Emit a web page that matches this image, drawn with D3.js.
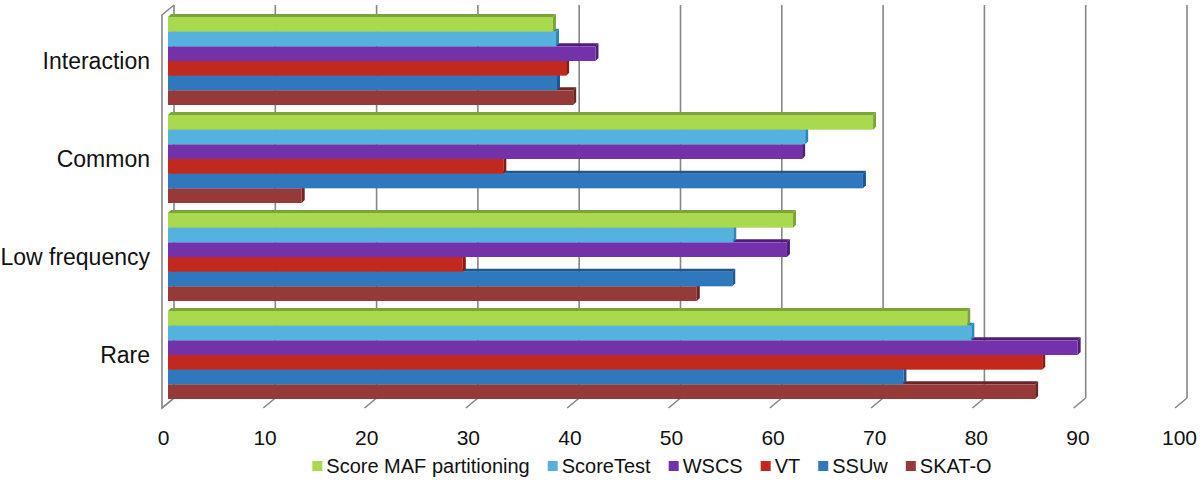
<!DOCTYPE html>
<html>
<head>
<meta charset="utf-8">
<script src="https://cdn.jsdelivr.net/npm/d3@7"></script>
<style>
  html, body { margin: 0; padding: 0; background: #ffffff; }
  svg { display: block; }
  text { font-family: "Liberation Sans", Arial, Helvetica, sans-serif; fill: #111; }
</style>
</head>
<body>
<svg id="chart" width="1200" height="504"></svg>
<script>
// ---- data ----
const categories = ["Interaction", "Common", "Low frequency", "Rare"];
const seriesNames = ["Score MAF partitioning", "ScoreTest", "WSCS", "VT", "SSUw", "SKAT-O"];
const scoreMAF  = [38.0, 69.6, 61.7, 78.9];
const scoreTest = [38.3, 62.9, 55.8, 79.3];
const wscs      = [42.2, 62.6, 61.1, 89.8];
const vt        = [39.3, 33.1, 29.1, 86.3];
const ssuw      = [38.4, 68.6, 55.7, 72.6];
const skato     = [40.0, 13.2, 52.2, 85.6];
const tickValues = [0, 10, 20, 30, 40, 50, 60, 70, 80, 90, 100];
const seriesColors = ["#a8d94f", "#55b2de", "#7331aa", "#c1281e", "#3078bd", "#963a39"];
const seriesShade  = ["#7ca436", "#2b87b8", "#4e1e7a", "#8a1912", "#1e5690", "#6a2625"];

const seriesValues = [scoreMAF, scoreTest, wscs, vt, ssuw, skato];

// ---- layout ----
const svg = d3.select("#chart");
const depthX = 12, depthY = 10;     // wall depth offset
const backTop = 5, backBottom = 398;
const x = d3.scaleLinear().domain([0, 100]).range([174, 1187]); // back plane
const barDepth = 3;
const barShift = -6; // bars sit halfway between front and back planes

const y = d3.scaleBand().domain(categories).range([17, 399]).paddingInner(0.102).paddingOuter(0);
const yInner = d3.scaleBand().domain(seriesNames).range([0, y.bandwidth()]);

const gridColor = "#868686";

// back wall gridlines
svg.append("g").selectAll("line").data(tickValues).join("line")
  .attr("x1", d => x(d)).attr("x2", d => x(d))
  .attr("y1", backTop).attr("y2", backBottom)
  .attr("stroke", gridColor).attr("stroke-width", 1.6);

// floor ticks (slanted)
svg.append("g").selectAll("line").data(tickValues).join("line")
  .attr("x1", d => x(d) - depthX).attr("y1", backBottom + depthY)
  .attr("x2", d => x(d)).attr("y2", backBottom)
  .attr("stroke", gridColor).attr("stroke-width", 1.6);

// left wall
svg.append("path")
  .attr("d", `M${x(0)},${backTop} L${x(0) - depthX},${backTop + depthY} L${x(0) - depthX},${backBottom + depthY} L${x(0)},${backBottom}`)
  .attr("fill", "none").attr("stroke", gridColor).attr("stroke-width", 1.6);

// bars
const bars = [];
categories.forEach((c, ci) => {
  seriesNames.forEach((s, si) => {
    bars.push({ cat: c, series: s, si: si, value: seriesValues[si][ci] });
  });
});
// draw from bottom series upward so upper bars overlap lower bars' top faces
const order = bars.slice().sort((a, b) => b.si - a.si);
const bg = svg.append("g");
order.forEach(d => {
  const x0 = x(0) + barShift;
  const x1 = x(d.value) + barShift;
  const y0 = y(d.cat) + yInner(d.series);
  const h = yInner.bandwidth();
  const g = bg.append("g");
  // top face
  g.append("path")
    .attr("d", `M${x0},${y0} L${x1},${y0} L${x1 + barDepth},${y0 - barDepth} L${x0 + barDepth},${y0 - barDepth} Z`)
    .attr("fill", seriesShade[d.si]);
  // right face
  g.append("path")
    .attr("d", `M${x1},${y0} L${x1 + barDepth},${y0 - barDepth} L${x1 + barDepth},${y0 + h - barDepth} L${x1},${y0 + h} Z`)
    .attr("fill", seriesShade[d.si]);
  // front face
  g.append("rect")
    .attr("x", x0).attr("y", y0)
    .attr("width", x1 - x0).attr("height", h)
    .attr("fill", seriesColors[d.si]);
});

// category labels
svg.append("g").selectAll("text").data(categories).join("text")
  .attr("x", 150)
  .attr("y", d => y(d) + y.bandwidth() / 2)
  .attr("text-anchor", "end")
  .attr("dominant-baseline", "central")
  .style("font-size", "23px")
  .text(d => d);

// value axis labels
const xAxis = d3.axisBottom(d3.scaleLinear().domain([0, 100]).range([x(0) - 11, x(100) - 8]))
  .tickValues(tickValues).tickSize(0).tickPadding(0);
const ax = svg.append("g").attr("transform", `translate(0, ${430})`).call(xAxis);
ax.select(".domain").remove();
ax.selectAll("text").style("font-size", "21px").attr("fill", "#111").attr("dy", "0.71em")
  .style("font-family", '"Liberation Sans", Arial, sans-serif');

// legend
const legend = svg.append("g");
const items = legend.selectAll("g").data(seriesNames).join("g");
items.append("rect").attr("width", 10).attr("height", 10).attr("y", -5)
  .attr("fill", (d, i) => seriesColors[i]);
items.append("text").attr("x", 14).attr("dominant-baseline", "central")
  .style("font-size", "20px").text(d => d);
let cx = 0;
const gap = 18;
items.each(function () {
  const w = 14 + this.querySelector("text").getComputedTextLength();
  d3.select(this).attr("transform", `translate(${cx},0)`);
  cx += w + gap;
});
const total = cx - gap;
legend.attr("transform", `translate(${652 - total / 2}, 466)`);
</script>
</body>
</html>
